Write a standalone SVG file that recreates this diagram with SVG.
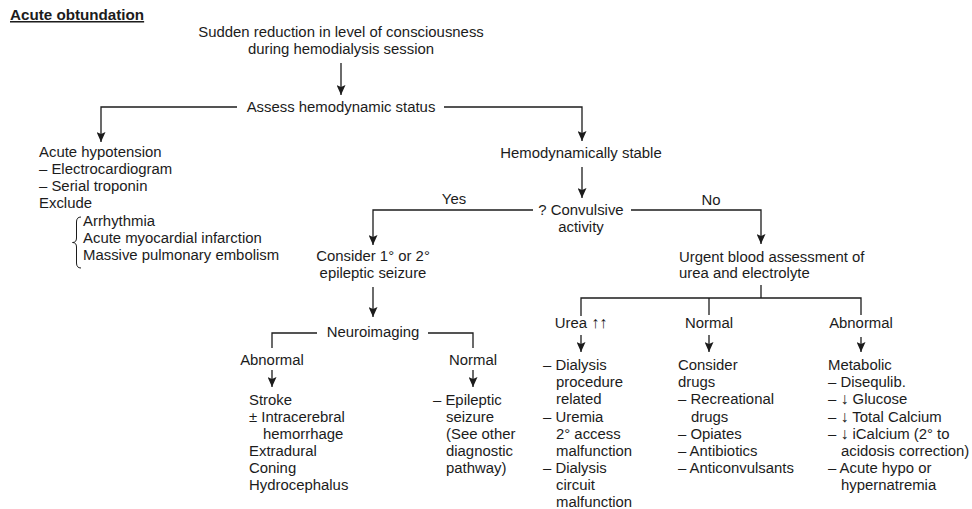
<svg xmlns="http://www.w3.org/2000/svg" width="972" height="509" viewBox="0 0 972 509">
<defs>
<style>
text{font-family:"Liberation Sans",Arial,Helvetica,sans-serif;font-size:14.9px;fill:#1c1c1c}
.c{text-anchor:middle}
.title{font-weight:bold;font-size:15.2px;text-decoration:underline}
.arw{font-size:16px}
.ln{fill:none;stroke:#1c1c1c;stroke-width:1.3}
.ar{fill:none;stroke:#1c1c1c;stroke-width:1.3;marker-end:url(#ah)}
.br{fill:none;stroke:#1c1c1c;stroke-width:1}
</style>
<marker id="ah" viewBox="0 0 10 9" refX="10" refY="4.5" markerWidth="10" markerHeight="9" markerUnits="userSpaceOnUse" orient="auto">
<path d="M0,0 L10,4.5 L0,9 L2,4.5 z" fill="#1c1c1c"/>
</marker>
</defs>
<rect width="972" height="509" fill="#ffffff"/>

<g id="title"><text class="title" x="10" y="20">Acute obtundation</text></g>

<g id="connectors">
<path class="ar" d="M341,63 L341,95"/>
<path class="ar" d="M237,107 L101,107 L101,142"/>
<path class="ar" d="M444,107 L582,107 L582,141"/>
<path class="ar" d="M582,167 L582,198"/>
<path class="ar" d="M533,210 L373,210 L373,245"/>
<path class="ar" d="M631,210 L761,210 L761,244"/>
<path class="ar" d="M373,287 L373,317"/>
<path class="ln" d="M317,333 L272,333 L272,348"/>
<path class="ln" d="M428,333 L473,333 L473,348"/>
<path class="ar" d="M272,370 L272,387"/>
<path class="ar" d="M473,370 L473,387"/>
<path class="ln" d="M761,285 L761,298"/>
<path class="ln" d="M581,316 L581,298 L861,298 L861,315"/>
<path class="ln" d="M709,298 L709,315"/>
<path class="ar" d="M581,335 L581,352"/>
<path class="ar" d="M709,335 L709,352"/>
<path class="ar" d="M861,337 L861,352"/>
</g>

<g id="start">
<text class="c" x="341" y="37">Sudden reduction in level of consciousness</text>
<text class="c" x="341" y="54">during hemodialysis session</text>
</g>

<g id="assess"><text class="c" x="341" y="112">Assess hemodynamic status</text></g>

<g id="hypotension">
<text x="39" y="157">Acute hypotension</text>
<text x="39" y="174">– Electrocardiogram</text>
<text x="39" y="191">– Serial troponin</text>
<text x="39" y="208">Exclude</text>
<path class="br" d="M81,217 Q76.5,217 76.5,222 L76.5,238 Q76.5,242.5 72.5,242.5 Q76.5,242.5 76.5,247 L76.5,263 Q76.5,268 81,268"/>
<text x="83" y="226">Arrhythmia</text>
<text x="83" y="243">Acute myocardial infarction</text>
<text x="83" y="260">Massive pulmonary embolism</text>
</g>

<g id="stable"><text class="c" x="581" y="158">Hemodynamically stable</text></g>

<g id="convulsive">
<text class="c" x="581" y="215">? Convulsive</text>
<text class="c" x="581" y="232">activity</text>
<text class="c" x="454" y="204">Yes</text>
<text class="c" x="711" y="205">No</text>
</g>

<g id="seizure">
<text class="c" x="373" y="261">Consider 1° or 2°</text>
<text class="c" x="373" y="278">epileptic seizure</text>
</g>

<g id="urgent">
<text x="679" y="262">Urgent blood assessment of</text>
<text x="679" y="278">urea and electrolyte</text>
</g>

<g id="neuroimaging"><text class="c" x="373" y="337">Neuroimaging</text></g>

<g id="neuro-abnormal">
<text class="c" x="272" y="365">Abnormal</text>
<text x="249" y="405">Stroke</text>
<text x="249" y="422">± Intracerebral</text>
<text x="263" y="439">hemorrhage</text>
<text x="249" y="456">Extradural</text>
<text x="249" y="473">Coning</text>
<text x="249" y="490">Hydrocephalus</text>
</g>

<g id="neuro-normal">
<text class="c" x="473" y="365">Normal</text>
<text x="433" y="405">– Epileptic</text>
<text x="446" y="422">seizure</text>
<text x="446" y="439">(See other</text>
<text x="446" y="456">diagnostic</text>
<text x="446" y="473">pathway)</text>
</g>

<g id="urea-high">
<text class="c" x="581" y="328">Urea <tspan class="arw">↑↑</tspan></text>
<text x="543" y="370">– Dialysis</text>
<text x="556" y="387">procedure</text>
<text x="556" y="404">related</text>
<text x="543" y="421.5">– Uremia</text>
<text x="556" y="439">2° access</text>
<text x="556" y="456">malfunction</text>
<text x="543" y="473">– Dialysis</text>
<text x="556" y="490">circuit</text>
<text x="556" y="507">malfunction</text>
</g>

<g id="urea-normal">
<text class="c" x="709" y="328">Normal</text>
<text x="678" y="370">Consider</text>
<text x="678" y="387">drugs</text>
<text x="678" y="404">– Recreational</text>
<text x="691" y="421.5">drugs</text>
<text x="678" y="439">– Opiates</text>
<text x="678" y="456">– Antibiotics</text>
<text x="678" y="473">– Anticonvulsants</text>
</g>

<g id="urea-abnormal">
<text class="c" x="861" y="328">Abnormal</text>
<text x="828" y="370">Metabolic</text>
<text x="828" y="387">– Disequlib.</text>
<text x="828" y="404">– <tspan class="arw">↓</tspan> Glucose</text>
<text x="828" y="421.5">– <tspan class="arw">↓</tspan> Total Calcium</text>
<text x="828" y="439">– <tspan class="arw">↓</tspan> iCalcium (2° to</text>
<text x="841" y="456">acidosis correction)</text>
<text x="828" y="473">– Acute hypo or</text>
<text x="841" y="490">hypernatremia</text>
</g>
</svg>
